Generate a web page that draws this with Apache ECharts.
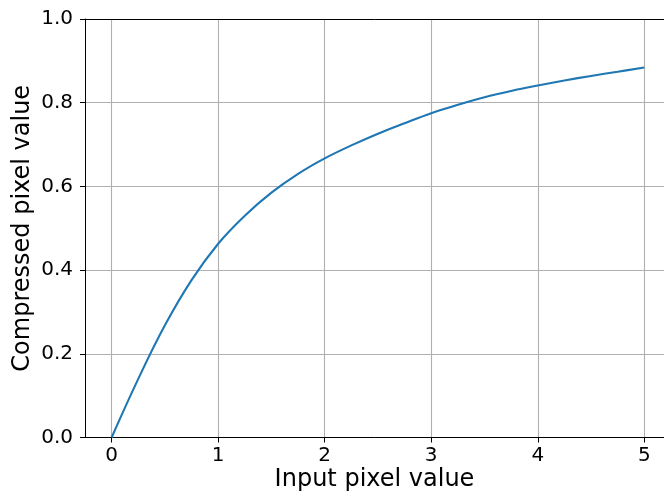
<!DOCTYPE html>
<html>
<head>
<meta charset="utf-8">
<script src="https://cdn.jsdelivr.net/npm/echarts@6/dist/echarts.min.js"></script>
<style>
  html, body { margin: 0; padding: 0; background: #fff; }
  #chart { width: 664px; height: 500px; }
</style>
</head>
<body>
<div id="chart"></div>
<script>
// values
const inputValues = [0, 0.25, 0.5, 0.75, 1, 1.25, 1.5, 1.75, 2, 2.25, 2.5, 2.75, 3, 3.25, 3.5, 3.75, 4, 4.25, 4.5, 4.75, 5]
const compressedValues = [0, 0.14, 0.268, 0.376, 0.463, 0.53, 0.585, 0.63, 0.667, 0.698, 0.726, 0.751, 0.775, 0.795, 0.813, 0.828, 0.841, 0.853, 0.864, 0.874, 0.884]
const xTicks = [0, 1, 2, 3, 4, 5]

const font = 'DejaVu Sans'
const xMin = -0.25
const xMax = 5.185 // plot runs past the right edge of the picture

const chart = echarts.init(document.getElementById('chart'))

chart.setOption({
  animation: false,
  backgroundColor: '#fff',
  grid: {
    left: 85,
    right: 0,
    top: 19,
    bottom: 62.5
  },
  xAxis: [
    {
      type: 'value',
      min: xMin,
      max: xMax,
      name: 'Input pixel value',
      nameLocation: 'middle',
      nameGap: 30,
      nameMoveOverlap: false,
      nameTextStyle: { fontFamily: font, fontSize: 24, color: '#000' },
      axisLine: { show: true, onZero: false, lineStyle: { color: '#000', width: 1 } },
      axisTick: { show: true, length: 5, customValues: xTicks, lineStyle: { color: '#000', width: 1 } },
      axisLabel: { customValues: xTicks, margin: 8, fontFamily: font, fontSize: 20, color: '#000' },
      splitLine: { show: true, lineStyle: { color: '#b0b0b0', width: 1.1 } }
    },
    {
      // top spine only
      type: 'value',
      position: 'top',
      min: xMin,
      max: xMax,
      axisLine: { show: true, onZero: false, lineStyle: { color: '#000', width: 1 } },
      axisTick: { show: false },
      axisLabel: { show: false },
      splitLine: { show: false }
    }
  ],
  yAxis: {
    type: 'value',
    min: 0,
    max: 1,
    interval: 0.2,
    name: 'Compressed pixel value',
    nameLocation: 'middle',
    nameGap: 50,
    nameMoveOverlap: false,
    nameTextStyle: { fontFamily: font, fontSize: 24, color: '#000' },
    axisLine: { show: true, onZero: false, lineStyle: { color: '#000', width: 1 } },
    axisTick: { show: true, length: 5, lineStyle: { color: '#000', width: 1 } },
    axisLabel: {
      margin: 12,
      fontFamily: font,
      fontSize: 20,
      color: '#000',
      formatter: (v) => v.toFixed(1)
    },
    splitLine: { show: true, lineStyle: { color: '#b0b0b0', width: 1.1 } }
  },
  series: [
    {
      type: 'line',
      xAxisIndex: 0,
      data: inputValues.map((x, i) => [x, compressedValues[i]]),
      smooth: 0.4,
      showSymbol: false,
      lineStyle: { color: '#1f77b4', width: 2.1 }
    }
  ]
})
</script>
</body>
</html>
